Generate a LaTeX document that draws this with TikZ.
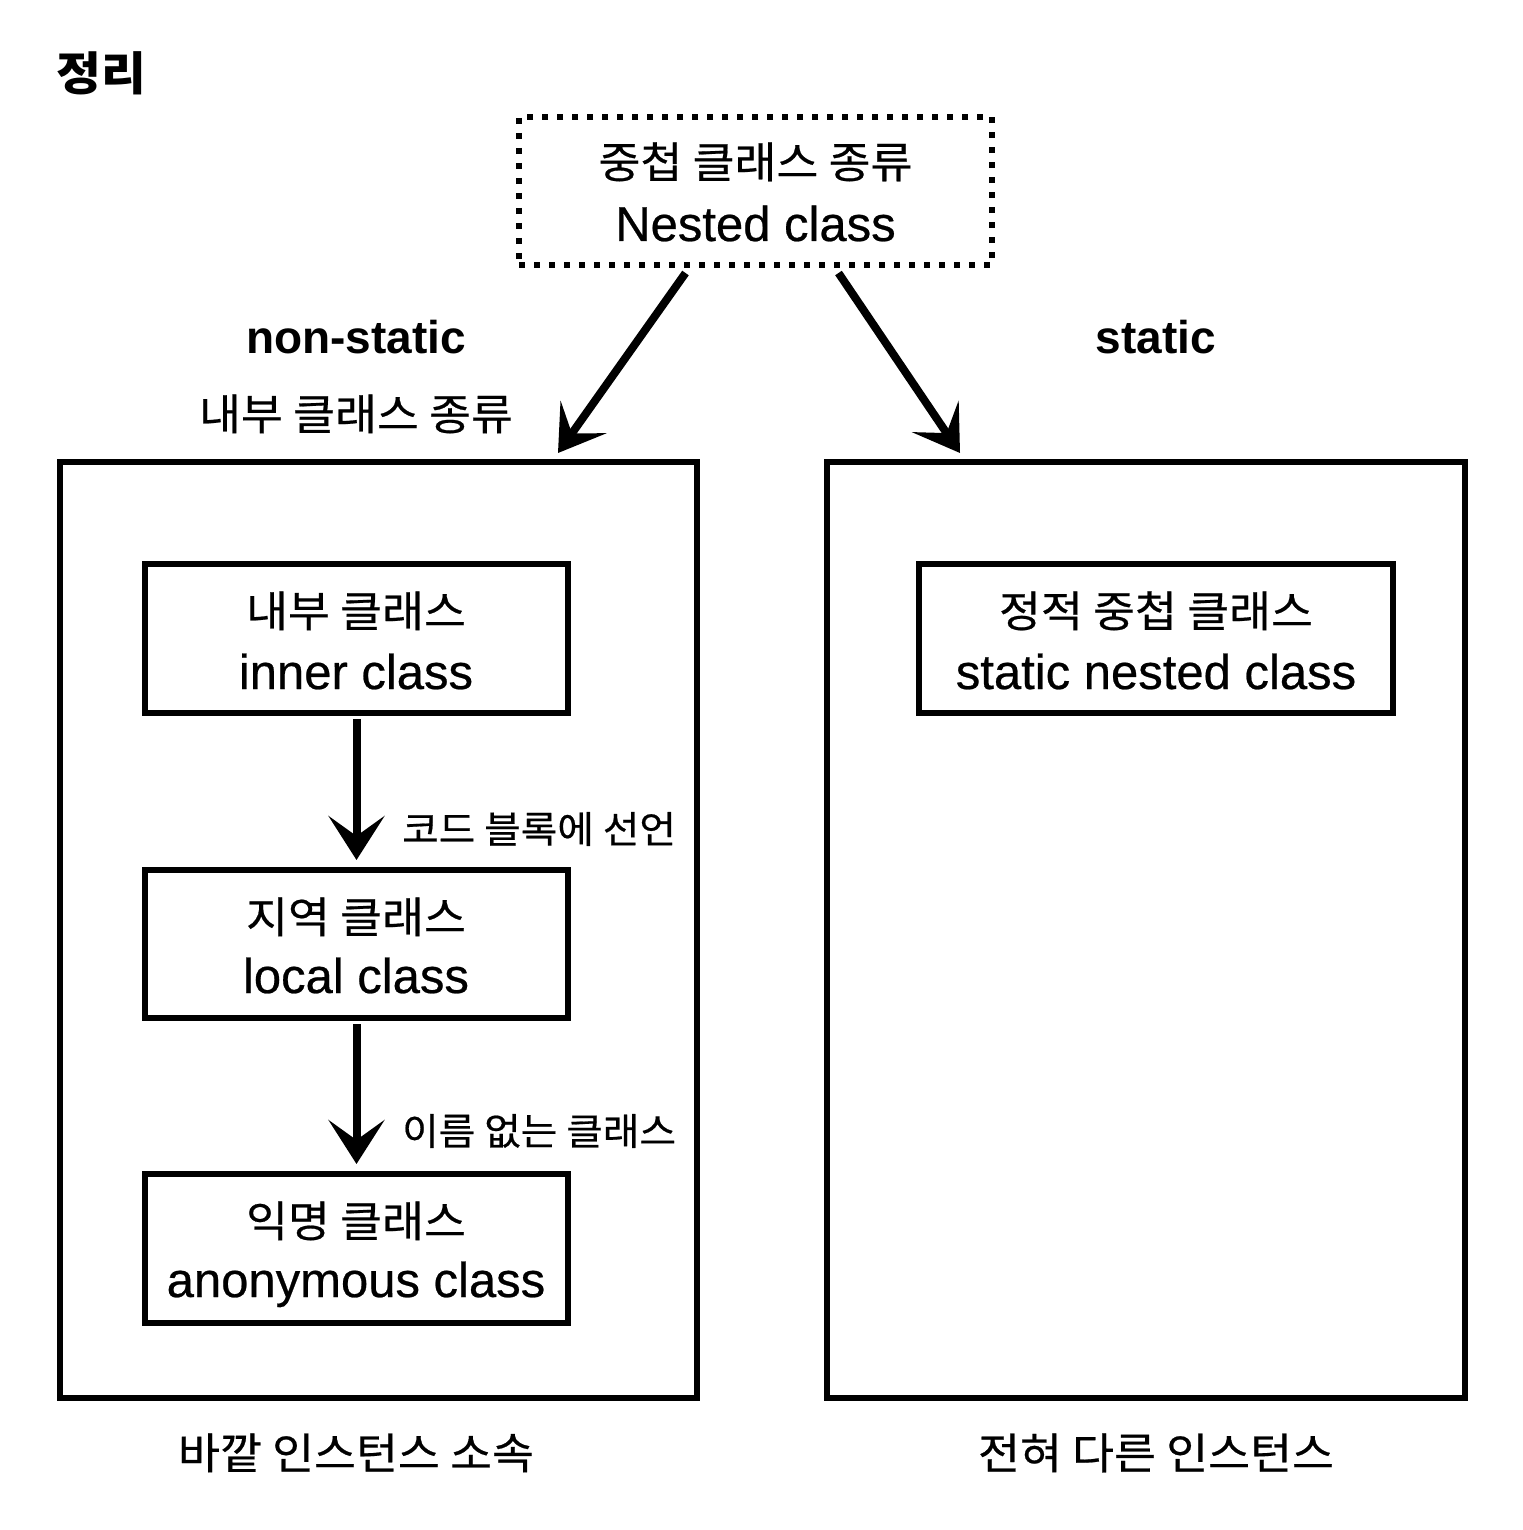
\documentclass[tikz,border=0pt]{standalone}
\usepackage{fontspec}
\setmainfont{Liberation Sans}
\newfontfamily\krf[FakeBold=0.5,FakeStretch=1.06]{Noto Sans CJK KR}
\newfontfamily\krt[FakeStretch=1.06]{Noto Sans CJK KR}
\newfontfamily\latm[FakeBold=0.5]{Liberation Sans}
\usetikzlibrary{arrows.meta,calc}
\tikzset{
  frame/.style={draw=black, line width=6pt, fill=none, inner sep=0pt},
  dotbox/.style={draw=black, line width=6pt, dash pattern=on 6pt off 9pt, inner sep=0pt},
  kr/.style={anchor=base, inner sep=0pt, font=\krf\fontsize{43}{50}\selectfont},
  krsmall/.style={anchor=base west, inner sep=0pt, font=\krf\fontsize{37.5}{44}\selectfont},
  lat/.style={anchor=base, inner sep=0pt, font=\latm\fontsize{49}{56}\selectfont},
  latb/.style={anchor=base, inner sep=0pt, font=\bfseries\fontsize{46}{54}\selectfont},
  arr/.style={draw=black, line width=8pt, -{Stealth[length=44pt, width=56pt, inset=20pt]}}
}
\begin{document}
\begin{tikzpicture}[x=1pt, y=-1pt]
\useasboundingbox (0,0) rectangle (1522,1530);
\fill[white] (0,0) rectangle (1522,1530);

% title
\node[anchor=base, inner sep=0pt, font=\krt\bfseries\fontsize{46}{52}\selectfont] (title) at (101,91) {정리};

% top dotted box
\node[dotbox, minimum width=473pt, minimum height=148pt] (nested) at (755.5,191) {};
\node[kr] (nestedkr) at (755.5,178) {중첩 클래스 종류};
\node[lat] (nestedlat) at (755.5,241) {Nested class};

% category labels
\node[latb] (nonstatic) at (356,353) {non-static};
\node[kr] (innerkind) at (356,430) {내부 클래스 종류};
\node[latb] (static) at (1156,353) {static};

% big boxes
\node[frame, minimum width=637pt, minimum height=936pt] (leftbox) at (378.5,930) {};
\node[frame, minimum width=638pt, minimum height=936pt] (rightbox) at (1146,930) {};

% inner boxes
\node[frame, minimum width=423pt, minimum height=149pt] (innerbox) at (356.5,638.5) {};
\node[kr] (innerkr) at (356,627) {내부 클래스};
\node[lat] (innerlat) at (356,689) {inner class};

\node[frame, minimum width=423pt, minimum height=148pt] (localbox) at (356.5,944) {};
\node[kr] (localkr) at (356,933) {지역 클래스};
\node[lat] (locallat) at (356,993) {local class};

\node[frame, minimum width=423pt, minimum height=149pt] (anonbox) at (356.5,1248.5) {};
\node[kr] (anonkr) at (356,1237) {익명 클래스};
\node[lat] (anonlat) at (356,1297) {anonymous class};

\node[frame, minimum width=474pt, minimum height=149pt] (staticbox) at (1156,638.5) {};
\node[kr] (statickr) at (1156,627) {정적 중첩 클래스};
\node[lat] (staticlat) at (1156,689) {static nested class};

% arrow labels
\node[krsmall] (codeblock) at (402,843) {코드 블록에 선언};
\node[krsmall] (noname) at (402,1145) {이름 없는 클래스};

% bottom labels
\node[kr] (outer) at (356,1469) {바깥 인스턴스 소속};
\node[kr] (other) at (1156,1469) {전혀 다른 인스턴스};

% arrows
\draw[arr] ($(nested.south)+(-70,5)$) -- ($(leftbox.north east)+(-142,-6)$);
\draw[arr] ($(nested.south)+(83,5)$) -- ($(rightbox.north west)+(136,-6)$);
\draw[arr] ($(innerbox.south)+(0,3)$) -- ($(localbox.north)+(0,-7)$);
\draw[arr] ($(localbox.south)+(0,3)$) -- ($(anonbox.north)+(0,-7)$);
\end{tikzpicture}
\end{document}
